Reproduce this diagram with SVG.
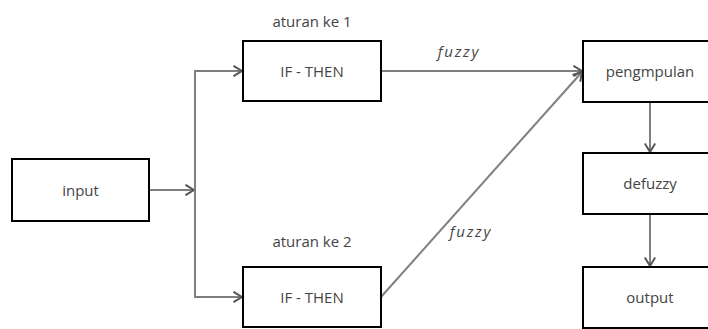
<svg xmlns="http://www.w3.org/2000/svg" width="708" height="329" viewBox="0 0 708 329">
<style>
.box{fill:#fff;stroke:#000;stroke-width:2}
.t{font-family:"Open Sans","Noto Sans",sans-serif;font-size:15px;fill:#444;text-anchor:middle}
.it{font-style:italic;letter-spacing:1.8px}
.c{fill:none;stroke:#7f7f7f;stroke-width:2}
</style>
<defs>
<marker id="a" viewBox="0 0 10 12" refX="9.5" refY="6" markerWidth="10" markerHeight="12" markerUnits="userSpaceOnUse" orient="auto">
<path d="M1,0.8 L9.5,6 L1,11.2" fill="none" stroke="#555" stroke-width="2"/>
</marker>
</defs>
<g id="connectors">
<line class="c" x1="149" y1="190" x2="194" y2="190" marker-end="url(#a)"/>
<path class="c" d="M243,71 H195 V297 H243"/>
<line class="c" x1="230" y1="71" x2="242" y2="71" marker-end="url(#a)"/>
<line class="c" x1="230" y1="297" x2="242" y2="297" marker-end="url(#a)"/>
<line class="c" x1="381" y1="71" x2="582" y2="71" marker-end="url(#a)"/>
<line class="c" x1="381" y1="297" x2="582" y2="72" marker-end="url(#a)"/>
<line class="c" x1="650" y1="102" x2="650" y2="152" marker-end="url(#a)"/>
<line class="c" x1="650" y1="214" x2="650" y2="266" marker-end="url(#a)"/>
<text class="t it" x="459" y="57">fuzzy</text>
<text class="t it" x="471" y="237">fuzzy</text>
</g>
<g id="input"><rect class="box" x="12" y="159" width="137" height="62"/><text class="t" x="80.5" y="196">input</text></g>
<g id="rule1"><text class="t" x="312" y="27">aturan ke 1</text><rect class="box" x="243" y="41" width="138" height="60"/><text class="t" x="312" y="77">IF - THEN</text></g>
<g id="rule2"><text class="t" x="312" y="247">aturan ke 2</text><rect class="box" x="243" y="267" width="138" height="60"/><text class="t" x="312" y="303">IF - THEN</text></g>
<g id="pengmpulan"><rect class="box" x="583" y="41" width="134" height="61"/><text class="t" x="650" y="77">pengmpulan</text></g>
<g id="defuzzy"><rect class="box" x="583" y="153" width="134" height="61"/><text class="t" x="650" y="189">defuzzy</text></g>
<g id="output"><rect class="box" x="583" y="267" width="134" height="61"/><text class="t" x="650" y="303">output</text></g>
</svg>
